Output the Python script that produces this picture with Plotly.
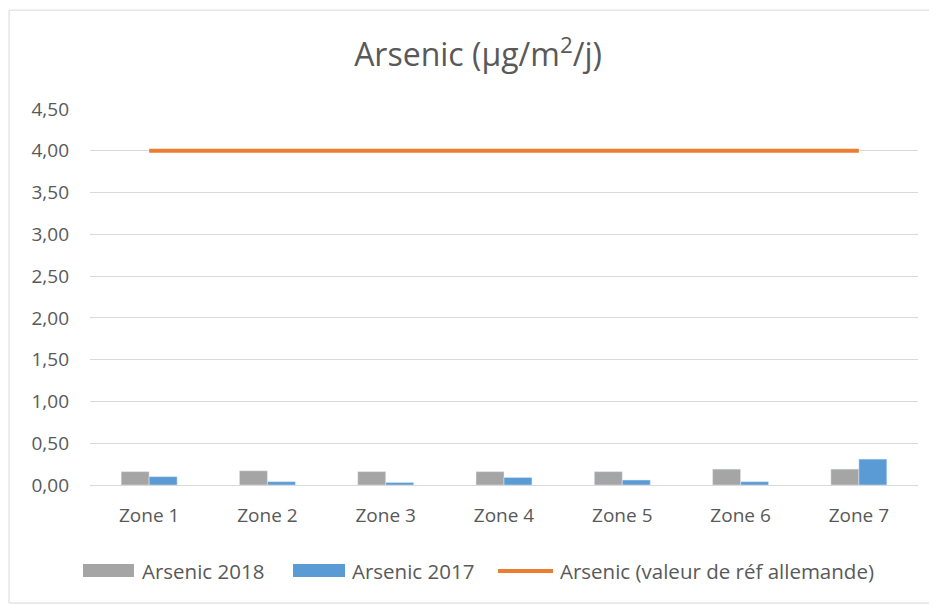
import plotly.graph_objects as go

zones = ["Zone 1", "Zone 2", "Zone 3", "Zone 4", "Zone 5", "Zone 6", "Zone 7"]
arsenic_2018 = [0.16, 0.17, 0.16, 0.16, 0.16, 0.19, 0.19]
arsenic_2017 = [0.10, 0.04, 0.03, 0.09, 0.06, 0.04, 0.31]
reference_value = [4.0, 4.0, 4.0, 4.0, 4.0, 4.0, 4.0]
series_names = ["Arsenic 2018", "Arsenic 2017", "Arsenic (valeur de réf allemande)"]
series_colors = ["#A5A5A5", "#5B9BD5", "#ED7D31"]

FONT = "Open Sans"
TXT = "#595959"

fig = go.Figure()
fig.add_trace(go.Bar(x=zones, y=arsenic_2018, name=series_names[0], marker_color=series_colors[0]))
fig.add_trace(go.Bar(x=zones, y=arsenic_2017, name=series_names[1], marker_color=series_colors[1]))
fig.add_trace(go.Scatter(x=zones, y=reference_value, name=series_names[2],
                         mode="lines", line=dict(color=series_colors[2], width=4)))

# Manual legend (Excel-style wide swatches)
leg_y = -0.2274
shapes = [
    dict(type="rect", xref="paper", yref="paper", x0=-0.0978, x1=1.0205, y0=-0.314, y1=1.263,
         line=dict(color="#D9D9D9", width=1), fillcolor="rgba(0,0,0,0)", layer="below"),
    dict(type="rect", xref="paper", yref="paper", x0=-0.00845, x1=0.0531, y0=-0.2447, y1=-0.2101,
         line=dict(width=0), fillcolor=series_colors[0]),
    dict(type="rect", xref="paper", yref="paper", x0=0.2452, x1=0.3080, y0=-0.2447, y1=-0.2101,
         line=dict(width=0), fillcolor=series_colors[1]),
    dict(type="line", xref="paper", yref="paper", x0=0.4928, x1=0.5592, y0=-0.2287, y1=-0.2287,
         line=dict(color=series_colors[2], width=4)),
]
annotations = [
    dict(text=series_names[0], x=0.0600, y=leg_y),
    dict(text=series_names[1], x=0.3136, y=leg_y),
    dict(text=series_names[2], x=0.5648, y=leg_y),
]
for a in annotations:
    a.update(xref="paper", yref="paper", xanchor="left", yanchor="middle", showarrow=False,
             font=dict(family=FONT, size=20.5, color=TXT))

fig.update_layout(
    width=929, height=597,
    margin=dict(l=82, r=19, t=101, b=120),
    paper_bgcolor="white", plot_bgcolor="white",
    separators=", ",
    barmode="group", bargap=0.527, bargroupgap=0,
    font=dict(family=FONT, color=TXT, size=19),
    title=dict(text="Arsenic (µg/m<sup>2</sup>/j)", x=0.506, xanchor="center", y=0.921, yanchor="middle",
               font=dict(family=FONT, size=32, color=TXT)),
    showlegend=False,
    xaxis=dict(showgrid=False, showline=False, ticks="", ticklabelstandoff=17,
               tickfont=dict(size=19, color=TXT)),
    yaxis=dict(range=[0, 4.5], dtick=0.5, tickformat=".2f", showgrid=True, gridcolor="#D9D9D9",
               gridwidth=1, zeroline=True, zerolinecolor="#D9D9D9", zerolinewidth=1,
               ticks="", ticklabelstandoff=20, tickfont=dict(size=19, color=TXT)),
    shapes=shapes,
    annotations=annotations,
)

fig.write_html("out.html")
